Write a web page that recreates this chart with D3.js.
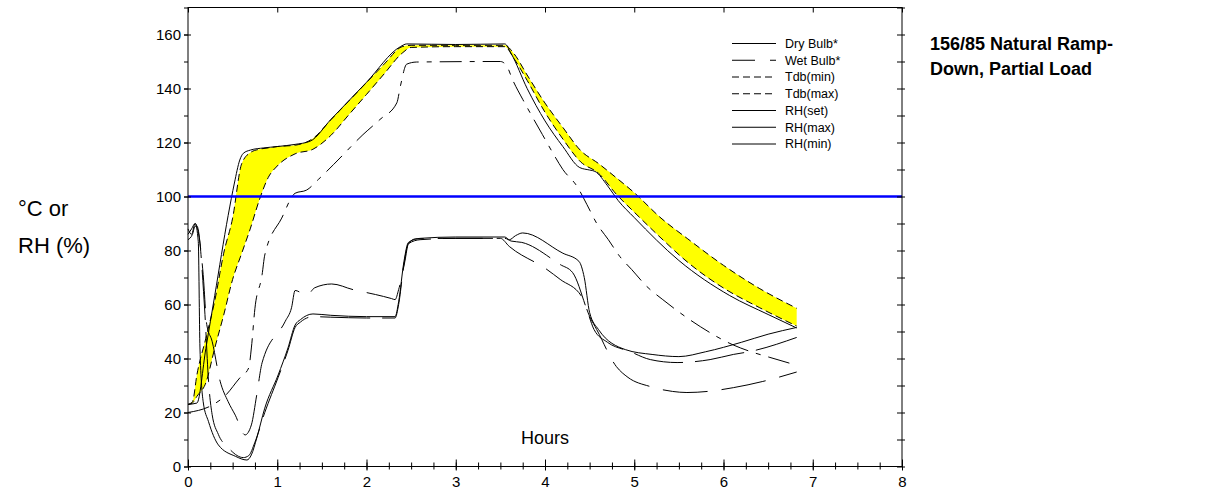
<!DOCTYPE html>
<html>
<head>
<meta charset="utf-8">
<script src="https://cdn.jsdelivr.net/npm/d3@7/dist/d3.min.js"></script>
<style>
  html, body { margin: 0; padding: 0; background: #fff; }
  svg { display: block; font-family: "Liberation Sans", Arial, sans-serif; }
</style>
</head>
<body>
<svg id="chart" width="1222" height="493"></svg>
<script>
// ---------------- DATA ----------------
const xTickValues = [0, 1, 2, 3, 4, 5, 6, 7, 8];
const yTickValues = [0, 20, 40, 60, 80, 100, 120, 140, 160];
const referenceLine = 100;

const dryBulbHours  = [0, 0.1, 0.2, 0.3, 0.45, 0.52, 0.58, 0.62, 0.7, 0.85, 1.0, 1.2, 1.37, 1.6, 2.0, 2.38, 2.45, 3.0, 3.55, 3.62, 3.8, 4.0, 4.2, 4.39, 4.5, 4.56, 4.7, 4.82, 5.0, 5.5, 6.07, 6.5, 6.82];
const dryBulbValues = [23, 23.5, 43.7, 63.4, 93, 105, 113.5, 116, 117.2, 118, 118.5, 119.3, 120.5, 128.5, 142.3, 155.5, 156.5, 156.3, 156.5, 153, 140, 128, 118.5, 110.7, 109.8, 109.3, 104, 98.5, 92.2, 76.3, 63.3, 56.3, 51.3];

const wetBulbHours  = [0, 0.28, 0.41, 0.58, 0.68, 0.71, 0.75, 0.83, 0.86, 1.05, 1.2, 1.33, 1.46, 1.63, 1.96, 2.15, 2.34, 2.38, 2.45, 2.56, 3.5, 3.57, 3.64, 3.75, 3.85, 3.97, 4.09, 4.2, 4.36, 4.47, 4.58, 4.71, 4.84, 4.97, 5.14, 5.32, 5.51, 5.74, 6.11, 6.3, 6.52, 6.82];
const wetBulbValues = [20, 22.9, 26, 32.8, 36.5, 43.9, 58.6, 71, 78.3, 92, 101.2, 102.4, 106.3, 111.8, 122.9, 128.5, 134.7, 140.9, 149, 149.8, 150, 148.4, 143, 136, 130, 123, 116, 110, 103.7, 97, 90, 84, 77.7, 73, 66.7, 61.8, 57, 51.8, 45, 42.6, 40.4, 37.5];

const tdbHours     = [0, 0.05, 0.1, 0.2, 0.3, 0.4, 0.5, 0.6, 0.7, 0.8, 0.9, 1.0, 1.2, 1.4, 1.6, 1.8, 2.0, 2.2, 2.4, 2.5, 3.0, 3.55, 3.65, 3.8, 4.0, 4.2, 4.4, 4.6, 4.8, 5.0, 5.3, 5.6, 6.0, 6.4, 6.82];
const tdbMinValues = [23, 23.5, 26, 31, 43.9, 56.1, 69.3, 78.8, 88.3, 98.8, 107.1, 111.3, 115.8, 117.5, 122.6, 130.2, 137.8, 145.5, 153.1, 155.2, 155.5, 155.5, 151.2, 143, 131.2, 121.3, 112.8, 108.6, 100.8, 94.2, 84.6, 75.6, 66.1, 58.9, 52];
const tdbMaxValues = [23, 24, 34, 47.5, 61.4, 79, 92, 112, 116.3, 117.5, 118, 118.5, 119, 121.5, 128.4, 135.3, 142.2, 149.1, 155.5, 156, 156, 156, 153, 145, 134.6, 125.6, 117, 112.2, 106.9, 101.4, 92, 84.3, 74.5, 66, 58.6];

const rhSetHours  = [0, 0.04, 0.08, 0.115, 0.134, 0.17, 0.23, 0.34, 0.53, 0.66, 0.71, 0.77, 0.86, 1.01, 1.12, 1.2, 1.26, 1.4, 1.6, 2.0, 2.32, 2.36, 2.42, 2.47, 2.6, 3.0, 3.55, 3.6, 3.67, 3.75, 4.2, 4.38, 4.44, 4.5, 4.6, 4.9, 5.2, 5.5, 5.8, 6.2, 6.5, 6.82];
const rhSetValues = [86, 88, 90, 83.4, 43.9, 24, 16.6, 8, 3.8, 2.4, 4.3, 10.5, 21.6, 33.9, 43.9, 52.4, 54.4, 56.5, 56, 55.5, 55.5, 61, 76, 83, 84.5, 85, 85, 84, 85.5, 86.5, 79, 76, 70, 57, 50.7, 43.3, 41.5, 40.7, 42.5, 46, 49, 51.5];

const rhMaxHours  = [0, 0.04, 0.08, 0.17, 0.21, 0.27, 0.36, 0.45, 0.53, 0.64, 0.71, 0.77, 0.83, 1.09, 1.16, 1.2, 1.33, 1.42, 1.61, 1.85, 2.1, 2.28, 2.32, 2.36, 2.43, 2.47, 2.55, 3.0, 3.5, 3.6, 4.02, 4.17, 4.41, 4.5, 4.58, 4.8, 4.93, 5.18, 5.43, 5.59, 5.82, 6.11, 6.44, 6.82];
const rhMaxValues = [88, 86, 90, 71.1, 52.6, 46.4, 31.6, 24, 19, 11.7, 15.4, 26.5, 38.4, 53.8, 58.8, 65.2, 63.4, 66.2, 67.6, 65.5, 63.7, 62.2, 61.8, 65.5, 76, 82.6, 84.3, 84.5, 84.5, 81.5, 73, 69.3, 63, 55.6, 50.7, 37, 33, 29.6, 27.8, 27.4, 27.8, 29.2, 31.5, 35];

const rhMinHours  = [0, 0.05, 0.08, 0.1, 0.19, 0.23, 0.27, 0.34, 0.45, 0.62, 0.68, 0.75, 0.86, 1.01, 1.12, 1.2, 1.26, 1.4, 1.6, 2.0, 2.32, 2.36, 2.42, 2.47, 2.6, 3.0, 3.55, 3.62, 3.74, 4.17, 4.31, 4.47, 4.55, 4.7, 4.95, 5.18, 5.48, 5.85, 6.11, 6.3, 6.82];
const rhMinValues = [84, 86, 89, 89, 56.3, 31.6, 19.3, 11.9, 7, 3.3, 4, 9, 20, 33, 43, 51.5, 53.5, 55.5, 55.3, 55, 55, 60, 75, 82.5, 84, 84.5, 84.5, 83.5, 83, 74.8, 71.8, 58, 50.7, 46, 42.6, 39.6, 38.5, 39.6, 41.5, 42.6, 47.8];

const legendLabels = ["Dry Bulb*", "Wet Bulb*", "Tdb(min)", "Tdb(max)", "RH(set)", "RH(max)", "RH(min)"];
const titleLines = ["156/85 Natural Ramp-", "Down, Partial Load"];
const yLabelLines = ["\u00B0C or", "RH (%)"];
const xLabel = "Hours";

// ---------------- STYLES ----------------
const dashes = {
  dry: null,
  wet: "22,8,5,8",
  tdb: "7,4",
  rhSet: null,
  rhMax: "45,14",
  rhMin: "50,12"
};

// ---------------- LAYOUT ----------------
const svg = d3.select("#chart");
const plot = { left: 188, right: 902, top: 7.5, bottom: 466.5 };
const x = d3.scaleLinear().domain([0, 8]).range([plot.left, plot.right]);
const y = d3.scaleLinear().domain([0, 170]).range([plot.bottom, plot.top]);

const zip = (hs, vs) => hs.map((h, i) => [h, vs[i]]);
const line = d3.line().x(d => x(d[0])).y(d => y(d[1])).curve(d3.curveMonotoneX);

// yellow band between Tdb(min) and Tdb(max)
const band = tdbHours.map((h, i) => ({ h, lo: tdbMinValues[i], hi: tdbMaxValues[i] }));
svg.append("path")
  .datum(band)
  .attr("fill", "#ffff00")
  .attr("stroke", "none")
  .attr("d", d3.area().x(d => x(d.h)).y0(d => y(d.lo)).y1(d => y(d.hi)).curve(d3.curveMonotoneX));

// series lines
const seriesDefs = [
  { data: zip(tdbHours, tdbMinValues), dash: dashes.tdb },
  { data: zip(tdbHours, tdbMaxValues), dash: dashes.tdb },
  { data: zip(wetBulbHours, wetBulbValues), dash: dashes.wet },
  { data: zip(rhMaxHours, rhMaxValues), dash: dashes.rhMax },
  { data: zip(rhMinHours, rhMinValues), dash: dashes.rhMin },
  { data: zip(rhSetHours, rhSetValues), dash: dashes.rhSet },
  { data: zip(dryBulbHours, dryBulbValues), dash: dashes.dry }
];
seriesDefs.forEach(s => {
  svg.append("path")
    .datum(s.data)
    .attr("fill", "none")
    .attr("stroke", "#000")
    .attr("stroke-width", 1)
    .attr("stroke-dasharray", s.dash)
    .attr("d", line);
});

// reference line at 100
svg.append("line")
  .attr("x1", x(0)).attr("x2", x(8))
  .attr("y1", y(referenceLine)).attr("y2", y(referenceLine))
  .attr("stroke", "#0000ff").attr("stroke-width", 2.5);

// ---------------- AXES ----------------
const fmtNone = () => "";
const xMinor = d3.range(0, 8.001, 0.25);
const yMinor = d3.range(0, 170.001, 10);

function styleAxis(g) {
  g.select(".domain").remove();
  g.selectAll("line").attr("stroke", "#000").attr("stroke-width", 1);
}

// bottom: outward ticks + labels
svg.append("g").attr("transform", `translate(0,${plot.bottom})`)
  .call(d3.axisBottom(x).tickValues(xMinor).tickSize(3).tickFormat(fmtNone)).call(styleAxis);
svg.append("g").attr("transform", `translate(0,${plot.bottom})`)
  .call(d3.axisBottom(x).tickValues(xTickValues).tickSize(4).tickPadding(6).tickFormat(d3.format("d")))
  .call(styleAxis)
  .call(g => g.selectAll("text").attr("font-size", 15).attr("fill", "#000").attr("font-family", "Liberation Sans, Arial, sans-serif"));
// bottom inward ticks
svg.append("g").attr("transform", `translate(0,${plot.bottom})`)
  .call(d3.axisBottom(x).tickValues(xMinor).tickSize(-4).tickFormat(fmtNone)).call(styleAxis);
svg.append("g").attr("transform", `translate(0,${plot.bottom})`)
  .call(d3.axisBottom(x).tickValues(xTickValues).tickSize(-7).tickFormat(fmtNone)).call(styleAxis);
// top inward major ticks
svg.append("g").attr("transform", `translate(0,${plot.top})`)
  .call(d3.axisTop(x).tickValues(xTickValues).tickSize(-5).tickFormat(fmtNone)).call(styleAxis);

// left
svg.append("g").attr("transform", `translate(${plot.left},0)`)
  .call(d3.axisLeft(y).tickValues(yMinor).tickSize(4).tickFormat(fmtNone)).call(styleAxis);
svg.append("g").attr("transform", `translate(${plot.left},0)`)
  .call(d3.axisLeft(y).tickValues(yTickValues).tickSize(4).tickPadding(3).tickFormat(d3.format("d")))
  .call(styleAxis)
  .call(g => g.selectAll("text").attr("font-size", 15).attr("fill", "#000").attr("font-family", "Liberation Sans, Arial, sans-serif"));
svg.append("g").attr("transform", `translate(${plot.left},0)`)
  .call(d3.axisLeft(y).tickValues(yTickValues).tickSize(-3).tickFormat(fmtNone)).call(styleAxis);
// right
svg.append("g").attr("transform", `translate(${plot.right},0)`)
  .call(d3.axisRight(y).tickValues(yMinor).tickSize(-5).tickFormat(fmtNone)).call(styleAxis);
svg.append("g").attr("transform", `translate(${plot.right},0)`)
  .call(d3.axisRight(y).tickValues(yMinor).tickSize(3).tickFormat(fmtNone)).call(styleAxis);

// frame
svg.append("rect")
  .attr("x", plot.left).attr("y", plot.top)
  .attr("width", plot.right - plot.left).attr("height", plot.bottom - plot.top)
  .attr("fill", "none").attr("stroke", "#000").attr("stroke-width", 1);

// ---------------- TEXT ----------------
svg.append("text").attr("x", x(4)).attr("y", 444)
  .attr("text-anchor", "middle").attr("font-size", 18).text(xLabel);

yLabelLines.forEach((t, i) => {
  svg.append("text").attr("x", 18).attr("y", 216 + i * 37)
    .attr("font-size", 22).text(t);
});

titleLines.forEach((t, i) => {
  svg.append("text").attr("x", 930).attr("y", 50 + i * 25)
    .attr("font-size", 18).attr("font-weight", "bold").text(t);
});

// ---------------- LEGEND ----------------
const legendDashes = [dashes.dry, dashes.wet, dashes.tdb, dashes.tdb, null, null, null];
const legend = svg.append("g");
legendLabels.forEach((lab, i) => {
  const yy = 43.5 + i * 16.75;
  legend.append("line")
    .attr("x1", 732).attr("x2", 776).attr("y1", yy).attr("y2", yy)
    .attr("stroke", "#000").attr("stroke-width", 1)
    .attr("stroke-dasharray", i === 1 ? "23,15,6,10" : legendDashes[i]);
  legend.append("text")
    .attr("x", 785).attr("y", yy).attr("dy", "0.35em")
    .attr("font-size", 12.5).text(lab);
});
</script>
</body>
</html>
